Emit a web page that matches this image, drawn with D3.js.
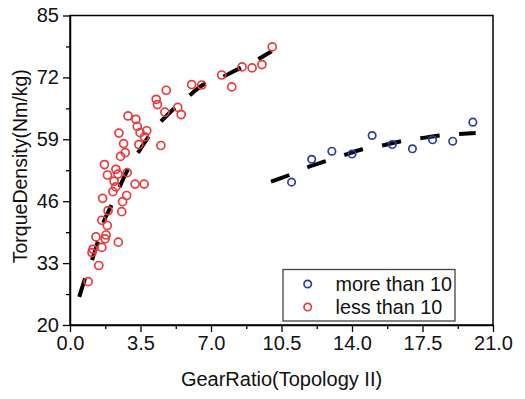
<!DOCTYPE html>
<html>
<head>
<meta charset="utf-8">
<script src="https://cdn.jsdelivr.net/npm/d3@7"></script>
<style>
  html, body { margin: 0; padding: 0; background: #fff; }
  text { font-family: "Liberation Sans", Arial, sans-serif; }
</style>
</head>
<body>
<div id="chart"></div>
<script>
// group "less than 10" (red)
const lessX = [10.04, 9.53, 9.04, 8.54, 7.53, 8.03, 6.54, 6.04, 4.78, 4.28, 4.34, 5.35, 5.52, 4.71,
  2.88, 3.27, 3.34, 3.81, 3.48, 3.70, 2.43, 2.66, 3.42, 4.51, 2.74, 2.51, 1.71, 2.28, 2.84, 1.86,
  2.38, 2.19, 2.27, 2.13, 3.23, 3.68, 1.62, 2.81, 2.61, 2.57, 1.89, 1.58, 1.85, 1.29, 1.79, 1.74,
  2.40, 1.58, 1.14, 1.09, 1.43, 0.90];
const lessY = [78.4, 74.7, 74.0, 74.2, 72.5, 70.0, 70.4, 70.5, 69.3, 67.4, 66.3, 65.7, 64.2, 64.7,
  63.9, 63.2, 61.7, 60.8, 60.4, 59.5, 60.3, 58.1, 57.9, 57.7, 56.2, 55.4, 53.7, 52.7, 52.0, 51.5,
  51.7, 50.2, 49.0, 48.0, 49.6, 49.6, 46.6, 47.2, 45.9, 43.8, 44.0, 42.0, 40.9, 38.5, 38.9, 38.1,
  37.4, 36.3, 35.9, 35.2, 32.5, 29.1];

// group "more than 10" (blue)
const moreX = [11, 12, 13, 14, 15, 16, 17, 18, 19, 20];
const moreY = [50.0, 54.8, 56.5, 55.9, 59.8, 57.9, 57.0, 58.9, 58.6, 62.6];

// fitted trend lines
const lessFitX = [0.46, 0.75, 1.09, 1.36, 1.65, 2.02, 2.43, 2.82, 3.31, 3.81, 4.38, 5.0, 5.79, 6.59, 7.53, 8.41, 9.24, 10.01];
const lessFitY = [25.9, 29.8, 33.6, 37.2, 41.4, 44.8, 48.7, 52.2, 55.7, 59.0, 62.1, 64.8, 67.7, 70.4, 72.0, 73.9, 75.6, 77.5];
const moreFitX = [9.98, 10.89, 11.78, 12.70, 13.62, 14.51, 15.51, 16.43, 17.39, 18.37, 19.31, 20.14];
const moreFitY = [50.1, 51.5, 53.1, 54.4, 55.7, 56.9, 57.7, 58.6, 59.2, 59.8, 60.1, 60.3];

const xTicks = [0, 3.5, 7, 10.5, 14, 17.5, 21];
const yTicks = [20, 33, 46, 59, 72, 85];
const seriesNames = ["more than 10", "less than 10"];

const width = 525, height = 399;
const margin = { top: 15.5, right: 32, bottom: 74, left: 70 };
const RED = "#e83c3c", BLUE = "#2a3ca2";

const svg = d3.select("#chart").append("svg")
  .attr("width", width).attr("height", height);

const x = d3.scaleLinear().domain([0, 21]).range([margin.left, width - margin.right]);
const y = d3.scaleLinear().domain([20, 85]).range([height - margin.bottom, margin.top]);

// 边框
svg.append("rect")
  .attr("x", x(0)).attr("y", y(85))
  .attr("width", x(21) - x(0)).attr("height", y(20) - y(85))
  .attr("fill", "none").attr("stroke", "#000").attr("stroke-width", 1.5);

// x 轴
const xMinor = xTicks.slice(0, -1).map(v => v + 1.75);
svg.append("g").attr("transform", `translate(0,${y(20)})`)
  .call(d3.axisBottom(x).tickValues(xTicks).tickFormat(d3.format(".1f")).tickSize(7).tickSizeOuter(0).tickPadding(4));
svg.append("g").attr("transform", `translate(0,${y(20)})`)
  .call(d3.axisBottom(x).tickValues(xMinor).tickFormat("").tickSize(4).tickSizeOuter(0))
  .select(".domain").remove();

// y 轴
const yMinor = yTicks.slice(0, -1).map(v => v + 6.5);
svg.append("g").attr("transform", `translate(${x(0)},0)`)
  .call(d3.axisLeft(y).tickValues(yTicks).tickSize(7).tickSizeOuter(0).tickPadding(4));
svg.append("g").attr("transform", `translate(${x(0)},0)`)
  .call(d3.axisLeft(y).tickValues(yMinor).tickFormat("").tickSize(4).tickSizeOuter(0))
  .select(".domain").remove();

svg.selectAll(".tick line").attr("stroke", "#000").attr("stroke-width", 1.3);
svg.selectAll(".domain").attr("stroke", "#000").attr("stroke-width", 1.5);
svg.selectAll(".tick text").attr("font-size", 20).attr("fill", "#111")
  .attr("font-family", "'Liberation Sans', Arial, sans-serif");

// 轴标题
svg.append("text")
  .attr("x", (x(0) + x(21)) / 2).attr("y", 386)
  .attr("text-anchor", "middle").attr("font-size", 20).attr("fill", "#111")
  .text("GearRatio(Topology II)");
svg.append("text")
  .attr("transform", `translate(27,${(y(20) + y(85)) / 2 - 4}) rotate(-90)`)
  .attr("text-anchor", "middle").attr("font-size", 19.5).attr("fill", "#111")
  .text("TorqueDensity(Nm/kg)");

// 拟合虚线
const line = d3.line().x(d => x(d[0])).y(d => y(d[1])).curve(d3.curveMonotoneX);
[[lessFitX, lessFitY], [moreFitX, moreFitY]].forEach(([fx, fy]) => {
  svg.append("path")
    .datum(fx.map((v, i) => [v, fy[i]]))
    .attr("d", line)
    .attr("fill", "none").attr("stroke", "#000")
    .attr("stroke-width", 4).attr("stroke-dasharray", "19.5,19.5");
});

// 散点
svg.append("g").selectAll("circle")
  .data(lessX.map((v, i) => [v, lessY[i]]))
  .join("circle")
  .attr("cx", d => x(d[0])).attr("cy", d => y(d[1])).attr("r", 4)
  .attr("fill", "none").attr("stroke", RED).attr("stroke-width", 1.7);
svg.append("g").selectAll("circle")
  .data(moreX.map((v, i) => [v, moreY[i]]))
  .join("circle")
  .attr("cx", d => x(d[0])).attr("cy", d => y(d[1])).attr("r", 3.7)
  .attr("fill", "none").attr("stroke", BLUE).attr("stroke-width", 1.7);

// 图例
const lg = svg.append("g");
lg.append("rect")
  .attr("x", 283).attr("y", 269.5).attr("width", 172).attr("height", 51.5)
  .attr("fill", "#fff").attr("stroke", "#444").attr("stroke-width", 1.3);
[BLUE, RED].forEach((c, i) => {
  lg.append("circle").attr("cx", 307.7).attr("cy", 284 + i * 23).attr("r", 3.7)
    .attr("fill", "none").attr("stroke", c).attr("stroke-width", 1.7);
  lg.append("text").attr("x", 335.5).attr("y", 290.5 + i * 23)
    .attr("font-size", 19.8).attr("fill", "#111").text(seriesNames[i]);
});
</script>
</body>
</html>
